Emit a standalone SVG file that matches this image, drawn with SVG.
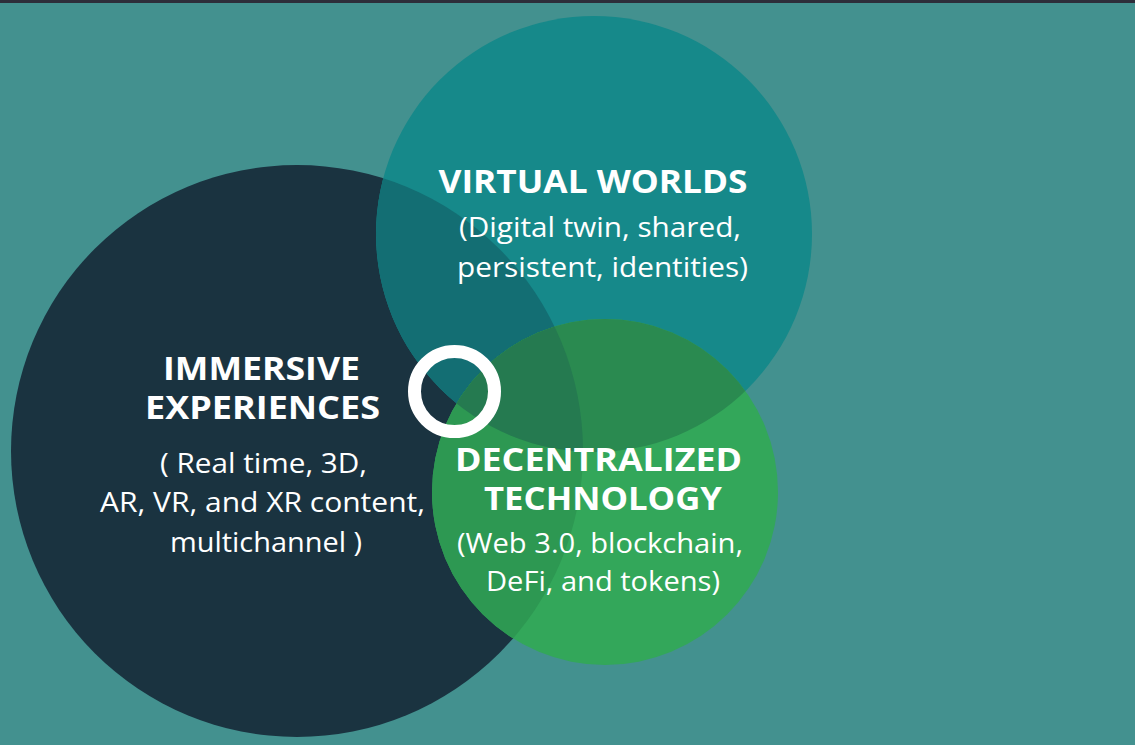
<svg xmlns="http://www.w3.org/2000/svg" width="1135" height="745" viewBox="0 0 1135 745">
  <style>
    .h { font-family: "Open Sans", "Noto Sans", "DejaVu Sans", sans-serif; font-weight: 700; font-size: 32px; fill: #ffffff; text-anchor: middle; }
    .b { font-family: "Open Sans", "Noto Sans", "DejaVu Sans", sans-serif; font-weight: 400; font-size: 27px; fill: #ffffff; text-anchor: middle; }
  </style>
  <defs>
    <clipPath id="cDark"><circle cx="297" cy="451" r="286"/></clipPath>
    <clipPath id="cVirt"><circle cx="594" cy="234" r="218"/></clipPath>
  </defs>
  <rect x="0" y="0" width="1135" height="745" fill="#43918F"/>
  <rect x="0" y="0" width="1135" height="3" fill="#2D2E3A"/>

  <g id="immersive-experiences">
    <circle cx="297" cy="451" r="286" fill="#1A3340"/>
  </g>
  <g id="virtual-worlds">
    <circle cx="594" cy="234" r="218" fill="#16898A"/>
    <circle cx="594" cy="234" r="218" fill="#136E73" clip-path="url(#cDark)"/>
  </g>
  <g id="decentralized-technology">
    <circle cx="605" cy="492" r="173" fill="#33A75A"/>
    <circle cx="605" cy="492" r="173" fill="#2D9852" clip-path="url(#cDark)"/>
    <circle cx="605" cy="492" r="173" fill="#2A8A50" clip-path="url(#cVirt)"/>
    <g clip-path="url(#cDark)">
      <circle cx="605" cy="492" r="173" fill="#257A50" clip-path="url(#cVirt)"/>
    </g>
  </g>

  <g id="center-ring">
    <circle cx="454.5" cy="391.5" r="40" fill="none" stroke="#ffffff" stroke-width="13"/>
  </g>

  <g id="label-virtual-worlds">
    <text class="h" x="593" y="193" textLength="309" lengthAdjust="spacingAndGlyphs">VIRTUAL WORLDS</text>
    <text class="b" x="600" y="237" textLength="282" lengthAdjust="spacingAndGlyphs">(Digital twin, shared,</text>
    <text class="b" x="602.5" y="277" textLength="291" lengthAdjust="spacingAndGlyphs">persistent, identities)</text>
  </g>
  <g id="label-immersive">
    <text class="h" x="261.5" y="380" textLength="197" lengthAdjust="spacingAndGlyphs">IMMERSIVE</text>
    <text class="h" x="262.5" y="419" textLength="235" lengthAdjust="spacingAndGlyphs">EXPERIENCES</text>
    <text class="b" x="263.5" y="473" textLength="207" lengthAdjust="spacingAndGlyphs">( Real time, 3D,</text>
    <text class="b" x="262.5" y="512" textLength="325" lengthAdjust="spacingAndGlyphs">AR, VR, and XR content,</text>
    <text class="b" x="266" y="552" textLength="192" lengthAdjust="spacingAndGlyphs">multichannel )</text>
  </g>
  <g id="label-decentralized">
    <text class="h" x="598.5" y="471" textLength="287" lengthAdjust="spacingAndGlyphs">DECENTRALIZED</text>
    <text class="h" x="603" y="510" textLength="238" lengthAdjust="spacingAndGlyphs">TECHNOLOGY</text>
    <text class="b" x="600" y="553" textLength="286" lengthAdjust="spacingAndGlyphs">(Web 3.0, blockchain,</text>
    <text class="b" x="603" y="591" textLength="234" lengthAdjust="spacingAndGlyphs">DeFi, and tokens)</text>
  </g>
</svg>
